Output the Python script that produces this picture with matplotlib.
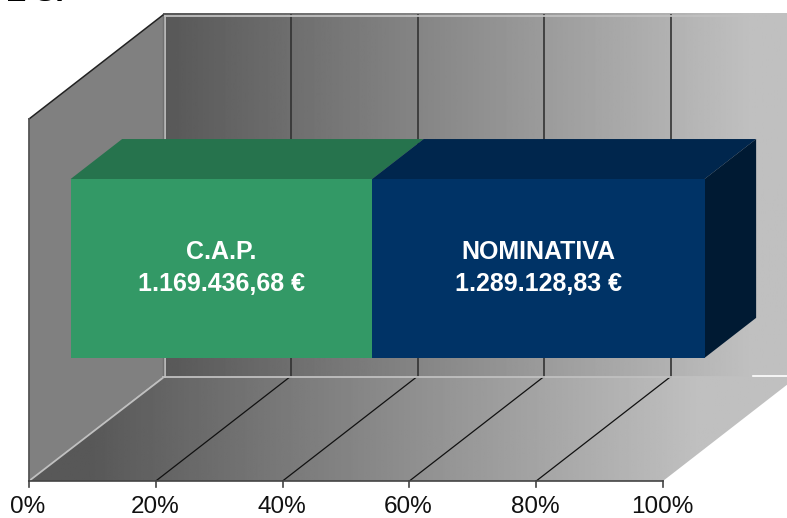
import numpy as np
import matplotlib
matplotlib.use('Agg')
import matplotlib.pyplot as plt
from matplotlib.patches import Polygon

plt.rcParams['font.family'] = ['Liberation Sans', 'DejaVu Sans']

names = ['C.A.P.', 'NOMINATIVA']
amounts = [1169436.68, 1289128.83]
amount_labels = ['1.169.436,68 €', '1.289.128,83 €']
tick_values = [0, 20, 40, 60, 80, 100]
face_colors = ['#339966', '#003366']
top_colors = ['#26734d', '#00264d']
side_color = '#001a33'


# Oblique projection of the 3D box, in pixels.
def project(pct, depth, height):
    return (29 + 6.34 * pct + 134 * depth, 481 - 362 * height - 104 * depth)


# Grey ramp between x_dark and x_light, flat outside of them.
def gradient_fill(ax, corners, x_dark, x_light):
    poly = Polygon(corners, closed=True, facecolor='none', edgecolor='none')
    ax.add_patch(poly)
    xs = [c[0] for c in corners]
    ys = [c[1] for c in corners]
    px = np.linspace(min(xs), max(xs), 400)
    ramp = np.interp(px, [x_dark, x_light], [0x58 / 255, 0xc0 / 255]).reshape(1, -1)
    im = ax.imshow(ramp, cmap='gray', vmin=0, vmax=1, aspect='auto',
                   extent=(min(xs), max(xs), max(ys), min(ys)), zorder=1)
    im.set_clip_path(poly)


fig = plt.figure(figsize=(7.87, 5.18), dpi=100)
ax = fig.add_axes([0, 0, 1, 1])

# Back wall, floor, left wall
gradient_fill(ax, [project(0, 1, 0), project(98.5, 1, 0), project(98.5, 1, 1.005), project(0, 1, 1.005)], 164, 753)
gradient_fill(ax, [project(0, 0, 0), project(100, 0, 0), project(100, 1, 0), project(0, 1, 0)], 90, 700)
ax.add_patch(Polygon([project(0, 0, 0), project(0, 1, 0), project(0, 1, 1), project(0, 0, 1)],
                     facecolor='#808080', edgecolor='none', zorder=2))

# Grid lines
for t in tick_values[1:-1]:
    ax.plot(*zip(project(t, 0, 0), project(t, 1, 0)), color='#111111', lw=0.9, zorder=3)
for t in tick_values[1:]:
    x0, y0 = project(t, 1, 0)
    x1, y1 = project(t, 1, 1)
    ax.plot([x0 + 1, x1 + 1], [y0, y1], color='#333333', lw=1.2, zorder=3)

# Wall borders
bx, by = project(0, 1, 0)
tx, ty = project(0, 1, 1)
ax.plot([*project(0, 0, 0)[:1], bx + 1], [project(0, 0, 0)[1], by], color='#c0c0c0', lw=1.3, zorder=3)
ax.plot([bx + 2, tx + 2], [by, ty + 1], color='#c0c0c0', lw=1.3, zorder=3)
ax.plot([bx, tx], [by, ty - 1], color='#707070', lw=1.0, zorder=3)
ax.plot([bx, project(98.5, 1, 0)[0]], [by, by], color='#c0c0c0', lw=1.3, zorder=3)
ax.plot([tx + 2, project(98.5, 1, 1)[0]], [ty + 1, ty + 1], color='#c0c0c0', lw=1.3, zorder=3)
ax.plot(*zip(project(0, 0, 1), project(0, 1, 1)), color='#222222', lw=1.1, zorder=3)
ax.plot(*zip(project(0, 0, 0), project(0, 0, 1)), color='#555555', lw=1.3, zorder=3)
ax.plot([753, 787], [376, 376], color='white', lw=1.2, zorder=3)

# Axis with ticks
ax.plot(*zip(project(0, 0, 0), project(100, 0, 0)), color='#444444', lw=1.2, zorder=4)
for t in tick_values:
    x, y = project(t, 0, 0)
    ax.plot([x, x], [y, y + 6], color='#444444', lw=1.2, zorder=4)
    ax.text(x - 1, y + 26, f'{t}%', ha='center', va='center', fontsize=17.5, color='#111111')

# Stacked bars
d0, d1, h0, h1 = 0.31, 0.695, 0.251, 0.745
total = sum(amounts)
start = 0
for name, amount, label, face, top in zip(names, amounts, amount_labels, face_colors, top_colors):
    share = amount / total * 100
    end = start + share
    ax.add_patch(Polygon([project(start, d0, h1), project(end, d0, h1), project(end, d1, h1), project(start, d1, h1)],
                         facecolor=top, edgecolor='none', zorder=5))
    ax.add_patch(Polygon([project(start, d0, h0), project(end, d0, h0), project(end, d0, h1), project(start, d0, h1)],
                         facecolor=face, edgecolor='none', zorder=6))
    cx, cy = project((start + end) / 2, d0, 0.5)
    ax.text(cx, cy - 15.5, name, ha='center', va='center', fontsize=18, fontweight='bold', color='white', zorder=7)
    ax.text(cx, cy + 16, label, ha='center', va='center', fontsize=18, fontweight='bold', color='white', zorder=7)
    start = end
ax.add_patch(Polygon([project(100, d0, h0), project(100, d1, h0), project(100, d1, h1), project(100, d0, h1)],
                     facecolor=side_color, edgecolor='none', zorder=5))

# Bottom of a heading that is cut off by the top edge
ax.text(6, 1, 'E S.', ha='left', va='baseline', fontsize=22, fontweight='bold', color='black')

ax.set_xlim(0, 787)
ax.set_ylim(518, 0)
ax.axis('off')

fig.savefig('out.png', dpi=100)
